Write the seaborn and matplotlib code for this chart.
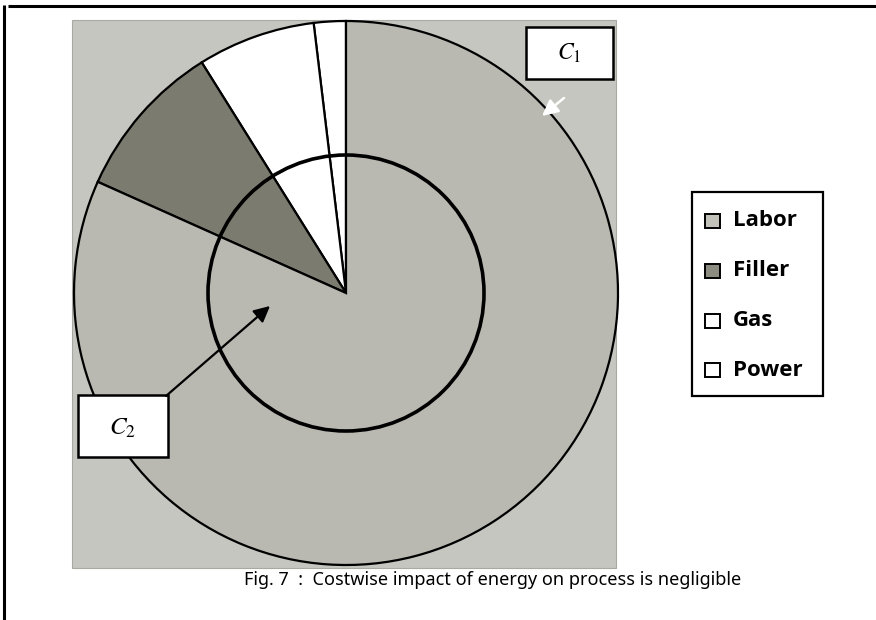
import matplotlib
matplotlib.use("Agg")
import matplotlib.pyplot as plt
import seaborn as sns
from matplotlib.patches import Rectangle, Circle, FancyArrowPatch

# ---- data (legend order) ----
categories = ["Labor", "Filler", "Gas", "Power"]
shares = [81.7, 9.4, 7.0, 1.9]          # percent of process cost
slice_colors = ["#b9b9b2", "#7b7b70", "#ffffff", "#ffffff"]
legend_fill = ["#c2c2bb", "#8c8c80", "#ffffff", "#ffffff"]
caption = "Fig. 7  :  Costwise impact of energy on process is negligible"
label_c1 = "$C_1$"
label_c2 = "$C_2$"

sns.set_theme(style="white")
plt.rcParams["font.family"] = ["DejaVu Sans"]
plt.rcParams["mathtext.fontset"] = "stix"
plt.rcParams["text.color"] = "black"

W, H = 876, 620
fig = plt.figure(figsize=(W / 100, H / 100), dpi=100)
ax = fig.add_axes([0, 0, 1, 1])

def Y(y):  # pixel row -> data y
    return H - y

# outer frame (top and left rules)
ax.plot([8, W], [Y(6), Y(6)], color="black", lw=2.2, solid_capstyle="butt")
ax.plot([4, 4], [Y(5), 0], color="black", lw=2.2, solid_capstyle="butt")

# grey square background
ax.add_patch(Rectangle((72, Y(568)), 544, 548, facecolor="#c6c6c0",
                       edgecolor="#a9a9a4", lw=0.8, zorder=1))

# pie: counter-clockwise from the top, Power first
cx, cy, R = 346, Y(293), 272
wedges, _ = ax.pie(shares[::-1], colors=slice_colors[::-1], startangle=90,
                   counterclock=True, radius=R, center=(cx, cy),
                   wedgeprops=dict(edgecolor="black", linewidth=1.6),
                   frame=True)
for w in wedges:
    w.set_zorder(2)

# inner circle
ax.add_patch(Circle((cx, cy), 138, fill=False, edgecolor="black", lw=2.6, zorder=3))

# C1 box and white arrow
ax.add_patch(Rectangle((526, Y(79)), 87, 52, facecolor="white",
                       edgecolor="black", lw=1.8, zorder=4))
ax.text(569.5, Y(53), label_c1, fontsize=17, ha="center", va="center",
        color="black", zorder=5)
ax.add_patch(FancyArrowPatch((564, Y(98)), (542, Y(116)), arrowstyle="-|>",
                             mutation_scale=24, color="white", lw=1.8,
                             shrinkA=0, shrinkB=0, zorder=4))

# C2 box and black arrow
ax.add_patch(Rectangle((78, Y(457)), 90, 62, facecolor="white",
                       edgecolor="black", lw=1.8, zorder=4))
ax.text(123, Y(428), label_c2, fontsize=18, ha="center", va="center",
        color="black", zorder=5)
ax.add_patch(FancyArrowPatch((166, Y(396)), (270, Y(306)), arrowstyle="-|>",
                             mutation_scale=24, color="black", lw=1.6,
                             shrinkA=0, shrinkB=0, zorder=4))

# legend
ax.add_patch(Rectangle((692, Y(396)), 131, 204, facecolor="white",
                       edgecolor="black", lw=1.6, zorder=4))
ys = [221, 271, 321, 370]
for lab, fc, y in zip(categories, legend_fill, ys):
    ax.add_patch(Rectangle((705, Y(y + 7)), 15, 14, facecolor=fc,
                           edgecolor="black", lw=1.4, zorder=5))
    ax.text(733, Y(y), lab, fontsize=16, fontweight="bold", color="black",
            family=["Open Sans", "DejaVu Sans"], ha="left", va="center", zorder=5)

# caption
ax.text(493, Y(580), caption, fontsize=13, color="black",
        family=["Noto Sans", "DejaVu Sans"], ha="center", va="center")

ax.set_xlim(0, W)
ax.set_ylim(0, H)
ax.set_aspect("auto")
ax.axis("off")
fig.savefig("out.png", dpi=100, facecolor="white")
